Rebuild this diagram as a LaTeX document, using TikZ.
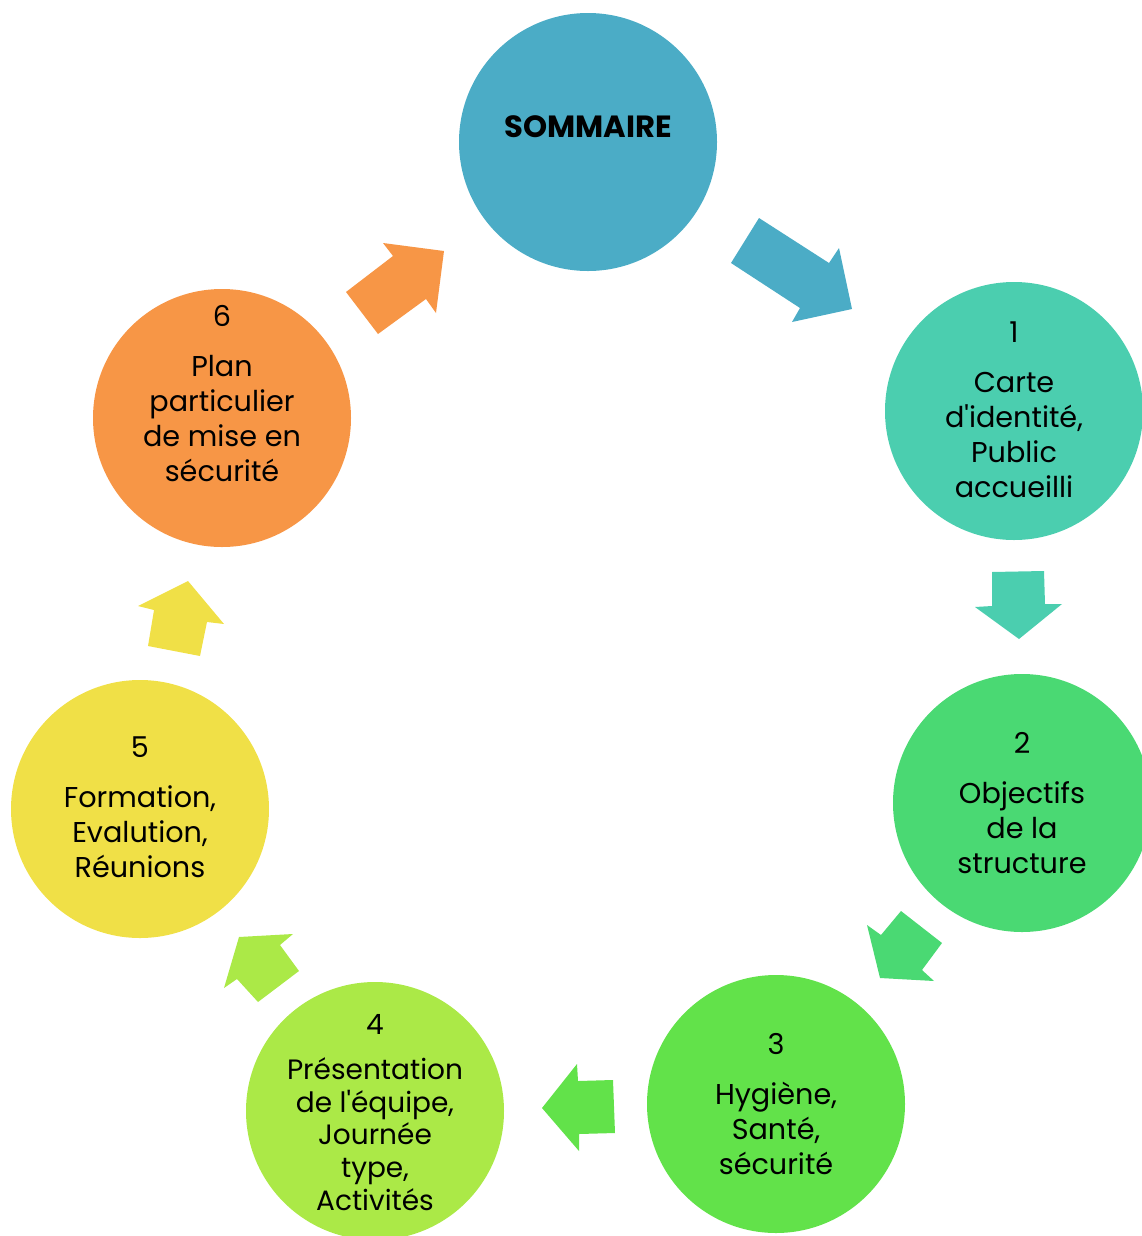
\documentclass[tikz,border=0pt]{standalone}
\usepackage{fontspec}
\setmainfont{Poppins}[Ligatures=TeXOff]
\definecolor{cS}{HTML}{4BACC6}
\definecolor{cA}{HTML}{4BCEAF}
\definecolor{cB}{HTML}{4AD973}
\definecolor{cC}{HTML}{62E24A}
\definecolor{cD}{HTML}{ABE947}
\definecolor{cE}{HTML}{F0E047}
\definecolor{cF}{HTML}{F79646}
\begin{document}
\begin{tikzpicture}[x=0.75pt,y=-0.75pt]
\tikzset{
  disc/.style={circle, minimum size=193.5pt, inner sep=0pt, draw=none},
  lbl/.style={align=center, inner sep=0pt, text=black, font=\fontsize{21.5}{26.25}\selectfont},
  lblsmall/.style={align=center, inner sep=0pt, text=black, font=\fontsize{21}{24.4}\selectfont},
}
\useasboundingbox (0,0) rectangle (1142,1236);
% circles
\node[disc, fill=cS] (s) at (588,142) {};
\node[disc, fill=cA] (c1) at (1014,411) {};
\node[disc, fill=cB] (c2) at (1022,803) {};
\node[disc, fill=cC] (c3) at (776,1104) {};
\node[disc, fill=cD] (c4) at (375,1111) {};
\node[disc, fill=cE] (c5) at (140,809) {};
\node[disc, fill=cF] (c6) at (222,418) {};
% texts (anchor base = baseline of last line)
\node[inner sep=0pt, anchor=base, font=\fontsize{23}{28}\selectfont\bfseries] (ts) at (588,137) {SOMMAIRE};
\node[lbl, anchor=base] (t1) at (1014,497) {1\\[11.25pt]Carte\\d'identité,\\Public\\accueilli};
\node[lbl, anchor=base] (t2) at (1022,873) {2\\[11.25pt]Objectifs\\de la\\structure};
\node[lbl, anchor=base] (t3) at (776,1174) {3\\[11.25pt]Hygiène,\\Santé,\\sécurité};
\node[lblsmall, anchor=base] (t4) at (375,1210) {4\\[10pt]Présentation\\de l'équipe,\\Journée\\type,\\Activités};
\node[lbl, anchor=base] (t5) at (140,877) {5\\[11.25pt]Formation,\\Evalution,\\Réunions};
\node[lbl, anchor=base] (t6) at (222,481) {6\\[11.25pt]Plan\\particulier\\de mise en\\sécurité};
% block arrows
\fill[cS] (759,218) -- (731,263) -- (800,308) -- (792,322) -- (852,309) -- (839,248) -- (829,263) -- cycle;
\fill[cA] (992,572) -- (1044,571) -- (1045,604) -- (1062,604) -- (1019,639) -- (975,607) -- (992,606) -- cycle;
\fill[cB] (901,911) -- (942,943) -- (922,970) -- (934,981) -- (880,978) -- (867,925) -- (881,935) -- cycle;
\fill[cC] (613,1080) -- (615,1133) -- (579,1134) -- (579,1151) -- (542,1108) -- (577,1064) -- (578,1081) -- cycle;
\fill[cD] (239,937) -- (293,934) -- (280,945) -- (299,971) -- (258,1002) -- (237,979) -- (224,988) -- cycle;
\fill[cE] (188,581) -- (224,624) -- (207,622) -- (200,656) -- (148,646) -- (154,610) -- (138,606) -- cycle;
\fill[cF] (383,243) -- (444,251) -- (436,313) -- (426,299) -- (378,334) -- (346,292) -- (393,256) -- cycle;
\end{tikzpicture}
\end{document}
